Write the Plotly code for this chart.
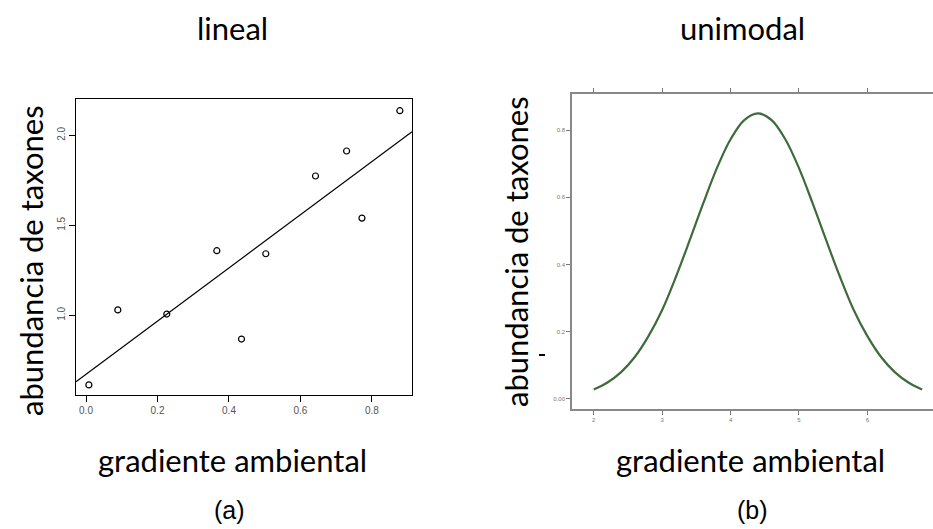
import plotly.graph_objects as go

# ---- data: panel (a) lineal ----
lin_x = [0.008, 0.089, 0.226, 0.366, 0.435, 0.503, 0.642, 0.729, 0.772, 0.878]
lin_y = [0.613, 1.030, 1.007, 1.359, 0.868, 1.342, 1.774, 1.913, 1.540, 2.137]
fit_intercept = 0.672
fit_slope = 1.478
lin_xticks = [0.0, 0.2, 0.4, 0.6, 0.8]
lin_xticklabels = ["0.0", "0.2", "0.4", "0.6", "0.8"]
lin_yticks = [1.0, 1.5, 2.0]
lin_yticklabels = ["1.0", "1.5", "2.0"]

# ---- data: panel (b) unimodal ----
uni_x = [2.0, 2.2, 2.4, 2.6, 2.8, 3.0, 3.2, 3.4, 3.6, 3.8, 4.0, 4.2, 4.4,
         4.6, 4.8, 5.0, 5.2, 5.4, 5.6, 5.8, 6.0, 6.2, 6.4, 6.6, 6.8]
uni_y = [0.028, 0.049, 0.080, 0.125, 0.187, 0.265, 0.363, 0.471, 0.582, 0.687, 0.773, 0.830, 0.850,
         0.830, 0.773, 0.687, 0.582, 0.471, 0.363, 0.265, 0.187, 0.125, 0.080, 0.049, 0.028]
uni_xticks = [2, 3, 4, 5, 6]
uni_xticklabels = ["2", "3", "4", "5", "6"]
uni_yticks = [0.0, 0.2, 0.4, 0.6, 0.8]
uni_yticklabels = ["0.00", "0.2", "0.4", "0.6", "0.8"]

titles = ["lineal", "unimodal"]
ylabel = "abundancia de taxones"
xlabel = "gradiente ambiental"
captions = ["(a)", "(b)"]

W, H = 933, 529
def px(x):
    return x / W
def py(y):
    return 1 - y / H

lin_xr = [-0.028, 0.912]
line_x = lin_xr
line_y = [fit_intercept + fit_slope * v for v in line_x]

fig = go.Figure()
fig.add_trace(go.Scatter(
    x=line_x, y=line_y, mode="lines",
    line=dict(color="black", width=1.2),
    xaxis="x", yaxis="y", showlegend=False, hoverinfo="skip"))
fig.add_trace(go.Scatter(
    x=lin_x, y=lin_y, mode="markers",
    marker=dict(symbol="circle-open", size=6, color="black", line=dict(width=1.2)),
    xaxis="x", yaxis="y", showlegend=False))
fig.add_trace(go.Scatter(
    x=uni_x, y=uni_y, mode="lines", line_shape="spline",
    line=dict(color="#3d6b3a", width=2.2),
    xaxis="x2", yaxis="y2", showlegend=False))

FONT = "Lato"
tickfont_a = dict(family="Liberation Sans", size=10, color="#555555")
tickfont_b = dict(family="Liberation Sans", size=6, color="#777777")

fig.update_layout(
    width=W, height=H,
    margin=dict(l=0, r=0, t=0, b=0),
    paper_bgcolor="white", plot_bgcolor="white",
    xaxis=dict(domain=[px(76), px(412)], anchor="y", range=lin_xr,
               tickvals=lin_xticks, ticktext=lin_xticklabels,
               ticks="outside", ticklen=6, tickcolor="black", tickwidth=1,
               showline=True, linecolor="black", linewidth=1, mirror=True,
               showgrid=False, zeroline=False, tickfont=tickfont_a),
    yaxis=dict(domain=[py(395), py(99)], anchor="x", range=[0.557, 2.202],
               tickvals=lin_yticks, ticktext=lin_yticklabels, tickangle=-90,
               ticks="outside", ticklen=6, tickcolor="black", tickwidth=1,
               showline=True, linecolor="black", linewidth=1, mirror=True,
               showgrid=False, zeroline=False, tickfont=tickfont_a),
    xaxis2=dict(domain=[px(572), 1.0], anchor="y2", range=[1.682, 6.959],
                tickvals=uni_xticks, ticktext=uni_xticklabels,
                ticks="outside", ticklen=4, tickcolor="#777777", tickwidth=1,
                showline=True, linecolor="#888888", linewidth=1.5, mirror="ticks",
                showgrid=False, zeroline=False, tickfont=tickfont_b),
    yaxis2=dict(domain=[py(409), py(94)], anchor="x2", range=[-0.0298, 0.9077],
                tickvals=uni_yticks, ticktext=uni_yticklabels,
                ticks="outside", ticklen=4, tickcolor="#777777", tickwidth=1,
                showline=True, linecolor="#888888", linewidth=1.5,
                showgrid=False, zeroline=False, tickfont=tickfont_b),
)

big = dict(family=FONT, size=31, color="black")
ann = []
ann.append(dict(text=titles[0], x=px(232), y=py(28), xref="paper", yref="paper",
                showarrow=False, font=big, xanchor="center", yanchor="middle"))
ann.append(dict(text=titles[1], x=px(742), y=py(28), xref="paper", yref="paper",
                showarrow=False, font=big, xanchor="center", yanchor="middle"))
ann.append(dict(text=ylabel, x=px(31), y=py(261), xref="paper", yref="paper",
                showarrow=False, font=big, textangle=-90, xanchor="center", yanchor="middle"))
ann.append(dict(text=ylabel, x=px(516), y=py(252), xref="paper", yref="paper",
                showarrow=False, font=big, textangle=-90, xanchor="center", yanchor="middle"))
ann.append(dict(text=xlabel, x=px(232), y=py(460), xref="paper", yref="paper",
                showarrow=False, font=big, xanchor="center", yanchor="middle"))
ann.append(dict(text=xlabel, x=px(750), y=py(460), xref="paper", yref="paper",
                showarrow=False, font=big, xanchor="center", yanchor="middle"))
cap_font = dict(family="Liberation Sans", size=25, color="black")
ann.append(dict(text=captions[0], x=px(229), y=py(510), xref="paper", yref="paper",
                showarrow=False, font=cap_font, xanchor="center", yanchor="middle"))
ann.append(dict(text=captions[1], x=px(752), y=py(510), xref="paper", yref="paper",
                showarrow=False, font=cap_font, xanchor="center", yanchor="middle"))
fig.update_layout(annotations=ann)

fig.add_shape(type="line", xref="paper", yref="paper",
              x0=px(539), x1=px(545), y0=py(355), y1=py(355),
              line=dict(color="black", width=2))

fig.write_html("out.html")
